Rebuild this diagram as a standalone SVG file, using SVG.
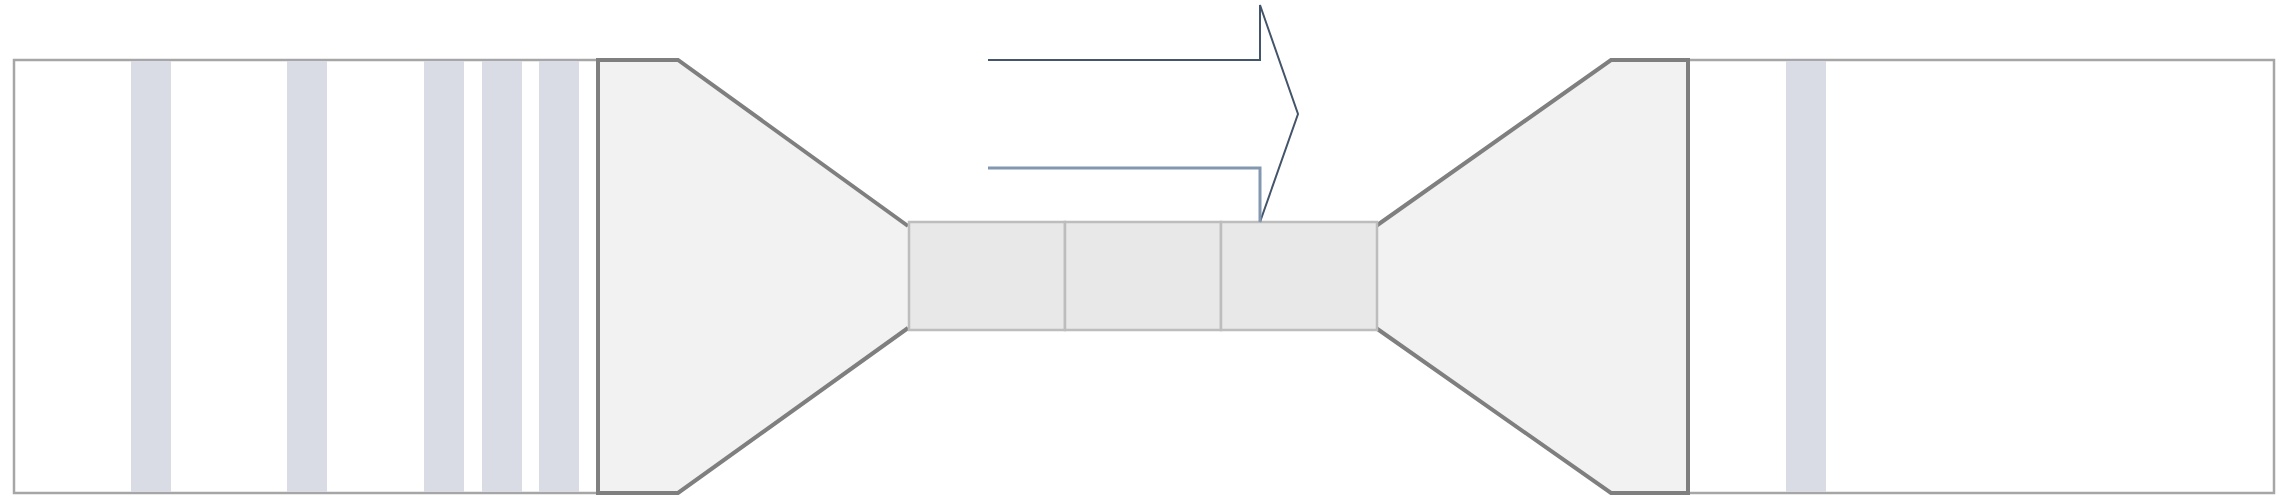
<svg xmlns="http://www.w3.org/2000/svg" width="2286" height="502" viewBox="0 0 2286 502">
<style>
.frame{fill:#ffffff;stroke:#a6a6a6;stroke-width:2.5}
.stripe{fill:#d9dce5;stroke:none}
.funnel-fill{fill:#f2f2f2;stroke:none}
.funnel-edge{fill:none;stroke:#7f7f7f;stroke-width:4;stroke-linejoin:miter}
.cell{fill:#e8e8e8;stroke:#bdbdbd;stroke-width:2.5}
.arrow{fill:none;stroke:#44546a;stroke-width:2}
</style>
<rect width="2286" height="502" fill="#ffffff"/>
<g id="left-section">
<rect class="frame" x="14" y="60" width="584" height="433"/>
<rect class="stripe" x="131" y="61" width="40" height="431"/>
<rect class="stripe" x="287" y="61" width="40" height="431"/>
<rect class="stripe" x="424" y="61" width="40" height="431"/>
<rect class="stripe" x="482" y="61" width="40" height="431"/>
<rect class="stripe" x="539" y="61" width="40" height="431"/>
</g>
<g id="right-section">
<rect class="frame" x="1688" y="60" width="586" height="433"/>
<rect class="stripe" x="1786" y="61" width="40" height="431"/>
</g>
<g id="left-funnel">
<polygon class="funnel-fill" points="598,60 678,60 908,226 908,328 678,493 598,493"/>
<path class="funnel-edge" d="M908,226 L678,60 H598 V493 H678 L908,328"/>
</g>
<g id="right-funnel">
<polygon class="funnel-fill" points="1376,226 1611,60 1688,60 1688,493 1611,493 1376,328"/>
<path class="funnel-edge" d="M1376,226 L1611,60 H1688 V493 H1611 L1376,328"/>
</g>
<g id="channel">
<rect class="cell" x="909" y="222" width="156" height="108"/>
<rect class="cell" x="1065" y="222" width="156" height="108"/>
<rect class="cell" x="1221" y="222" width="156" height="108"/>
</g>
<g id="connectors">
<path class="arrow" d="M988,60 H1260 V5 L1298,114 L1260,222"/>
<path d="M988,168 H1260 V222" fill="none" stroke="#8497b0" stroke-width="3"/>
</g>
</svg>
